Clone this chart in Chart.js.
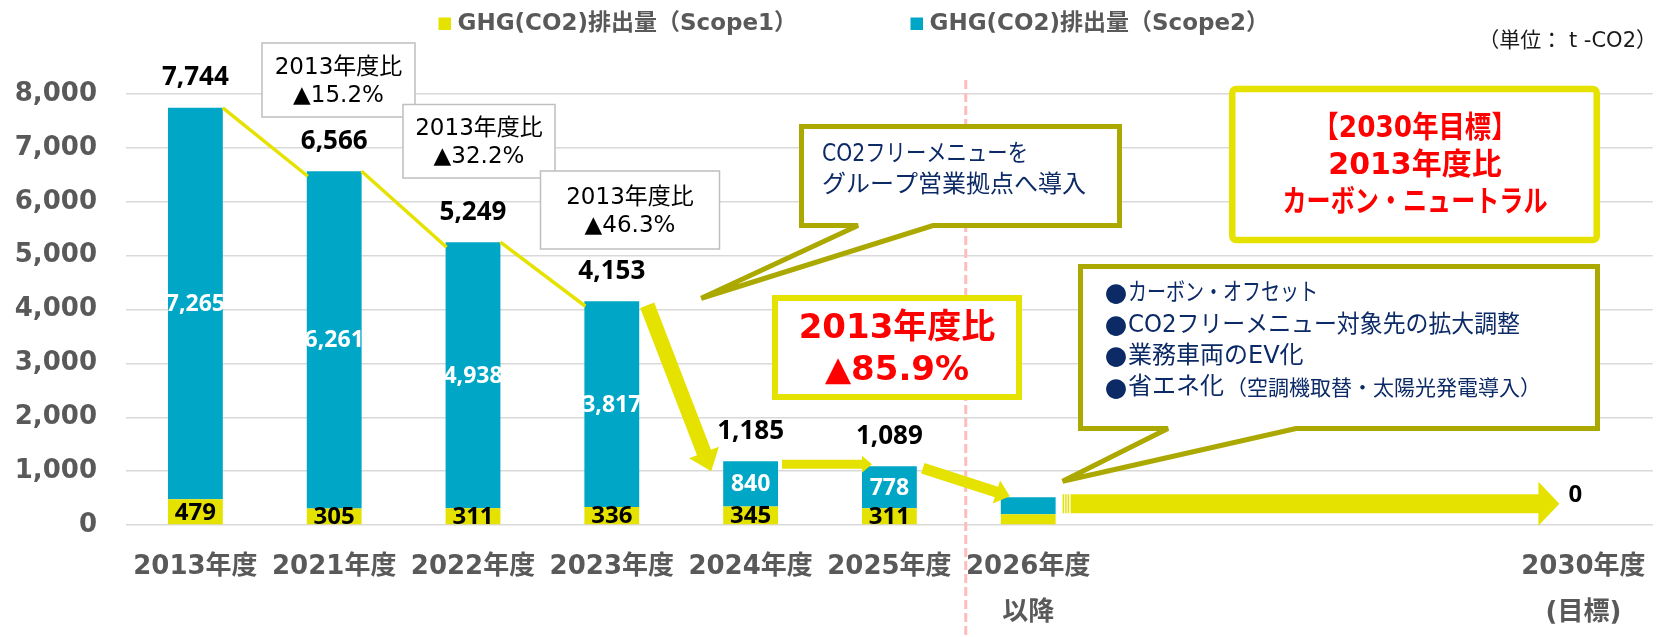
<!DOCTYPE html>
<html lang="ja">
<head>
<meta charset="utf-8">
<title>GHG(CO2)排出量</title>
<script src="https://cdn.jsdelivr.net/npm/chart.js@4.4.1/dist/chart.umd.min.js"></script>
<style>
  html, body { margin: 0; padding: 0; background: #fff; }
  .chart-container { position: relative; width: 1665px; height: 637px; }
</style>
</head>
<body>
<div class="chart-container">
  <canvas id="ghgChart" width="1665" height="637"></canvas>
</div>
<script>
  // data
  const years = ['2013年度', '2021年度', '2022年度', '2023年度', '2024年度', '2025年度',
    ['2026年度', '以降'], '', '', '', ['2030年度', '(目標)']];
  const scope1 = [479, 305, 311, 336, 345, 311, 200, null, null, null, 0];
  const scope2 = [7265, 6261, 4938, 3817, 840, 778, 315, null, null, null, 0];
  const seriesNames = ['GHG(CO2)排出量（Scope1）', 'GHG(CO2)排出量（Scope2）'];
  const segmentLabelIdx = [0, 1, 2, 3, 4, 5];
  const totalLabelIdx = [0, 1, 2, 3, 4, 5, 10];
  const ratioNotes = [['2013年度比', '▲15.2%'], ['2013年度比', '▲32.2%'], ['2013年度比', '▲46.3%']];
  const resultNote = ['2013年度比', '▲85.9%'];
  const targetNote = ['【2030年目標】', '2013年度比', 'カーボン・ニュートラル'];
  const introNote = ['CO2フリーメニューを', 'グループ営業拠点へ導入'];
  const futureMeasures = ['カーボン・オフセット', 'CO2フリーメニュー対象先の拡大調整', '業務車両のEV化', '省エネ化'];
  const futureMeasureNote = '（空調機取替・太陽光発電導入）';
  const unitText = '（単位： t -CO2）';

  const YELLOW = '#e6e200';
  const CYAN = '#00a6c6';
  const OLIVE = '#aba800';
  const NAVY = '#0b2a66';
  const GRAY = '#595959';
  const AX_FONT = '"DejaVu Sans", "Noto Sans CJK JP", sans-serif';
  const NUM_FONT = '"Open Sans", "DejaVu Sans", sans-serif';
  const CJK_FONT = '"Noto Sans CJK JP", sans-serif';

  const fmt = v => v.toLocaleString('en-US');

  function arrow(ctx, x1, y1, x2, y2, shaft, headW, headL) {
    const dx = x2 - x1, dy = y2 - y1, len = Math.hypot(dx, dy);
    const ux = dx / len, uy = dy / len, nx = -uy, ny = ux;
    const bx = x2 - ux * headL, by = y2 - uy * headL;
    ctx.beginPath();
    ctx.moveTo(x1 + nx * shaft / 2, y1 + ny * shaft / 2);
    ctx.lineTo(bx + nx * shaft / 2, by + ny * shaft / 2);
    ctx.lineTo(bx + nx * headW / 2, by + ny * headW / 2);
    ctx.lineTo(x2, y2);
    ctx.lineTo(bx - nx * headW / 2, by - ny * headW / 2);
    ctx.lineTo(bx - nx * shaft / 2, by - ny * shaft / 2);
    ctx.lineTo(x1 - nx * shaft / 2, y1 - ny * shaft / 2);
    ctx.closePath();
    ctx.fill();
  }

  function textBox(ctx, x, y, w, h, stroke, lw) {
    ctx.fillStyle = '#fff';
    ctx.fillRect(x, y, w, h);
    ctx.lineWidth = lw;
    ctx.strokeStyle = stroke;
    ctx.strokeRect(x, y, w, h);
  }

  function callout(ctx, x, y, w, h, baseL, baseR, tipX, tipY) {
    ctx.beginPath();
    ctx.moveTo(x, y);
    ctx.lineTo(x + w, y);
    ctx.lineTo(x + w, y + h);
    ctx.lineTo(baseR, y + h);
    ctx.lineTo(tipX, tipY);
    ctx.lineTo(baseL, y + h);
    ctx.lineTo(x, y + h);
    ctx.closePath();
    ctx.fillStyle = '#fff';
    ctx.fill();
    ctx.lineWidth = 5;
    ctx.miterLimit = 2;
    ctx.strokeStyle = OLIVE;
    ctx.stroke();
  }

  const notesPlugin = {
    id: 'ghgNotes',
    afterDatasetsDraw(chart) {
      const ctx = chart.ctx;
      const m1 = chart.getDatasetMeta(0), m2 = chart.getDatasetMeta(1);
      ctx.save();
      ctx.textAlign = 'center';
      ctx.textBaseline = 'middle';
      segmentLabelIdx.forEach(i => {
        const b1 = m1.data[i], b2 = m2.data[i];
        ctx.fillStyle = '#000';
        ctx.font = '700 24px ' + NUM_FONT;
        ctx.fillText(fmt(scope1[i]), b1.x, (b1.y + b1.base) / 2 + 1);
        ctx.fillStyle = '#fff';
        ctx.font = '700 23px ' + NUM_FONT;
        ctx.fillText(fmt(scope2[i]), b2.x, (b2.y + b2.base) / 2 + 1);
      });
      totalLabelIdx.forEach(i => {
        const b2 = m2.data[i];
        ctx.fillStyle = '#000';
        ctx.font = '700 ' + (i === 10 ? 24 : 26) + 'px ' + NUM_FONT;
        ctx.fillText(fmt(scope1[i] + scope2[i]), b2.x - (i === 10 ? 8 : 0), b2.y - 30);
      });
      ctx.restore();
    },
    afterDraw(chart) {
      const ctx = chart.ctx;
      const xs = chart.scales.x;
      const m2 = chart.getDatasetMeta(1);
      const bar = i => {
        const e = m2.data[i];
        return { l: e.x - e.width / 2, r: e.x + e.width / 2, t: e.y, base: e.base };
      };
      ctx.save();

      // dashed divider between actual and plan
      const dx = xs.getPixelForValue(5.55);
      ctx.beginPath();
      ctx.setLineDash([9, 4]);
      ctx.strokeStyle = '#ffbcbc';
      ctx.lineWidth = 3;
      ctx.moveTo(dx, 80);
      ctx.lineTo(dx, chart.height);
      ctx.stroke();
      ctx.setLineDash([]);

      // series lines between the first bars
      ctx.strokeStyle = YELLOW;
      ctx.lineWidth = 3.5;
      for (let i = 0; i < 3; i++) {
        const a = bar(i), b = bar(i + 1);
        ctx.beginPath();
        ctx.moveTo(a.r, a.t);
        ctx.lineTo(b.l + 1, b.t + 5);
        ctx.stroke();
      }

      // block arrows
      ctx.fillStyle = YELLOW;
      let a = bar(3), b = bar(4);
      arrow(ctx, a.r + 8, a.t + 4, b.l - 12, b.t + 10, 15, 32, 20);
      a = bar(4); b = bar(5);
      arrow(ctx, a.r + 4, a.t + 3, b.l + 10, b.t - 2, 9, 17, 10);
      a = bar(5); b = bar(6);
      arrow(ctx, a.r + 6, a.t + 2, b.l + 9, b.t - 1, 11, 24, 14);
      const g = bar(6);
      const ay = (g.t + g.base) / 2 - 2;
      [7, 9.5, 12].forEach(off => ctx.fillRect(g.r + off, ay - 9.5, 1.5, 19));
      arrow(ctx, g.r + 15, ay, xs.getPixelForValue(10) - 24, ay, 19, 44, 21);

      // ratio boxes
      const grayBoxes = [[262, 43, 153, 74], [403, 104.5, 152, 73.5], [540.5, 171, 179, 78]];
      grayBoxes.forEach((r, k) => {
        textBox(ctx, r[0], r[1], r[2], r[3], '#bfbfbf', 1.5);
        ctx.fillStyle = '#000';
        ctx.font = '400 23px ' + AX_FONT;
        ctx.textAlign = 'center';
        ctx.textBaseline = 'middle';
        const cx = r[0] + r[2] / 2, cy = r[1] + r[3] / 2 + 2;
        ctx.fillText(ratioNotes[k][0], cx, cy - 14);
        ctx.fillText(ratioNotes[k][1], cx, cy + 14);
      });

      // callout: CO2 free menu
      a = bar(3);
      callout(ctx, 801.5, 126.5, 318, 99, 858, 933, a.r + 62, a.t - 3);
      ctx.fillStyle = NAVY;
      ctx.textAlign = 'left';
      ctx.textBaseline = 'middle';
      ctx.font = '400 24px ' + AX_FONT;
      ctx.fillText(introNote[0], 822, 155, 206);
      ctx.fillText(introNote[1], 822, 186, 264);

      // callout: future measures
      callout(ctx, 1080.5, 266.5, 517, 162, 1168, 1296, g.r + 7, g.t - 16);
      futureMeasures.forEach((t, k) => {
        const y = 294 + k * 31.4;
        ctx.fillStyle = NAVY;
        ctx.font = '400 22px ' + CJK_FONT;
        ctx.fillText('●', 1105, y);
        ctx.font = '400 24px ' + AX_FONT;
        if (k === 0) ctx.fillText(t, 1128, y, 190);
        else if (k === 1) ctx.fillText(t, 1128, y, 392);
        else ctx.fillText(t, 1128, y);
        if (k === 3) {
          const w = ctx.measureText(t).width;
          ctx.font = '400 21px ' + AX_FONT;
          ctx.fillText(futureMeasureNote, 1128 + w + 2, y + 1);
        }
      });

      // result box
      textBox(ctx, 775, 298, 244, 99, YELLOW, 6);
      ctx.fillStyle = '#ff0000';
      ctx.textAlign = 'center';
      ctx.font = '700 34px ' + AX_FONT;
      ctx.fillText(resultNote[0], 897, 329);
      ctx.fillText(resultNote[1], 897, 371);

      // 2030 target box
      ctx.beginPath();
      ctx.roundRect(1232.25, 89, 364.5, 151, 4);
      ctx.fillStyle = '#fff';
      ctx.fill();
      ctx.lineWidth = 6.5;
      ctx.strokeStyle = YELLOW;
      ctx.stroke();
      ctx.fillStyle = '#ff0000';
      ctx.font = '700 30px ' + AX_FONT;
      ctx.fillText(targetNote[0], 1415, 129, 205);
      ctx.fillText(targetNote[1], 1415, 166);
      ctx.fillText(targetNote[2], 1415, 203, 265);

      // legend
      ctx.textAlign = 'left';
      ctx.font = '700 23px ' + AX_FONT;
      [[438.5, YELLOW], [910.5, CYAN]].forEach((it, k) => {
        ctx.fillStyle = it[1];
        ctx.fillRect(it[0], 17.5, 12.5, 12.5);
        ctx.fillStyle = GRAY;
        ctx.fillText(seriesNames[k], it[0] + 19, 24.5);
      });

      // unit
      ctx.textAlign = 'right';
      ctx.fillStyle = '#1a1a1a';
      ctx.font = '400 21px ' + AX_FONT;
      ctx.fillText(unitText, 1657, 42);
      ctx.restore();
    }
  };

  new Chart('ghgChart', {
    type: 'bar',
    data: {
      labels: years,
      datasets: [
        { label: seriesNames[0], data: scope1, backgroundColor: YELLOW },
        { label: seriesNames[1], data: scope2, backgroundColor: CYAN }
      ]
    },
    options: {
      responsive: false,
      animation: false,
      layout: { padding: { top: 94, right: 9, bottom: 0, left: 0 } },
      datasets: { bar: { categoryPercentage: 1, barPercentage: 0.395, borderWidth: 0 } },
      plugins: { legend: { display: false }, tooltip: { enabled: false } },
      scales: {
        x: {
          stacked: true,
          grid: { display: false, drawTicks: false },
          border: { display: false },
          ticks: {
            autoSkip: false, maxRotation: 0, padding: 19, color: GRAY,
            font: { family: AX_FONT, size: 26, weight: 'bold', lineHeight: '46px' }
          },
          afterFit: s => { s.height = 112; }
        },
        y: {
          stacked: true,
          min: 0, max: 8000,
          grid: { color: '#d9d9d9', lineWidth: 1.5, drawTicks: false },
          border: { display: false },
          ticks: {
            stepSize: 1000, padding: 29, color: GRAY,
            font: { family: AX_FONT, size: 26, weight: 'bold' }
          },
          afterFit: s => { s.width = 126; }
        }
      }
    },
    plugins: [notesPlugin]
  });
</script>
</body>
</html>
